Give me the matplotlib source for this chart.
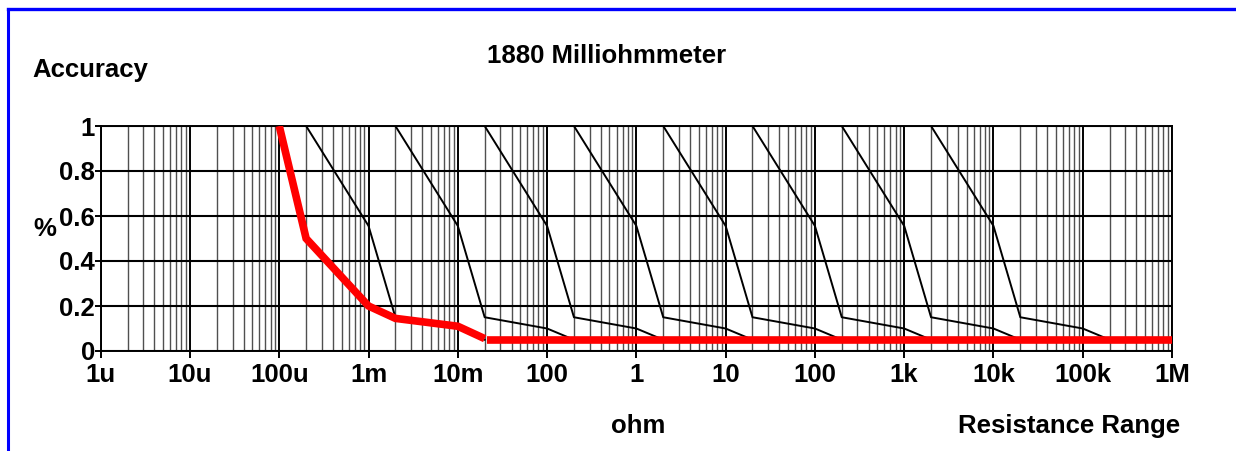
import matplotlib.pyplot as plt
from matplotlib.lines import Line2D
from matplotlib.ticker import FixedLocator, NullFormatter

plt.rcParams['font.family'] = ['Liberation Sans', 'DejaVu Sans']
plt.rcParams['font.weight'] = 'bold'

W, H = 1236, 451

# decade tick labels along the x axis
tick_vals = [1e-6, 1e-5, 1e-4, 1e-3, 1e-2, 1e-1, 1, 10, 100, 1e3, 1e4, 1e5, 1e6]
tick_labels = ['1u', '10u', '100u', '1m', '10m', '100', '1', '10', '100', '1k', '10k', '100k', '1M']
y_ticks = [0, 0.2, 0.4, 0.6, 0.8, 1]
y_labels = ['0', '0.2', '0.4', '0.6', '0.8', '1']

# accuracy curve for each range (start of range = 1 %)
range_starts = [2e-4, 2e-3, 2e-2, 2e-1, 2, 20, 200, 2000]
curve_mult = [1, 5, 10, 50, 100]
curve_acc = [1.0, 0.556, 0.15, 0.10, 0.05]

# best accuracy (red)
best_x = [1e-4, 2e-4, 1e-3, 2e-3, 1e-2, 2e-2]
best_y = [1.0, 0.50, 0.20, 0.145, 0.11, 0.055]
floor_x = [2.1e-2, 1e6]
floor_y = [0.05, 0.05]

fig = plt.figure(figsize=(W / 100, H / 100), dpi=100)
ax = fig.add_axes([100.7 / W, 1 - 351 / H, (1172 - 100.7) / W, 225 / H])
ax.set_xscale('log')
ax.set_xlim(1e-6, 1e6)
ax.set_ylim(0, 1)

# grid
minors = [m * 10.0 ** e for e in range(-6, 6) for m in range(2, 10)]
for v in minors:
    ax.axvline(v, color='#505050', lw=1.0, zorder=1)
for v in tick_vals:
    ax.axvline(v, color='black', lw=1.4, zorder=2)
for v in y_ticks:
    ax.axhline(v, color='black', lw=1.5, zorder=2)

for s in range_starts:
    ax.plot([s * m for m in curve_mult], curve_acc, color='black', lw=1.4, zorder=3)

ax.plot(best_x, best_y, color='#ff0000', lw=5.5, solid_joinstyle='miter',
        solid_capstyle='butt', zorder=4)
ax.plot(floor_x, floor_y, color='#ff0000', lw=5.5, solid_capstyle='butt', zorder=4)

ax.xaxis.set_major_locator(FixedLocator(tick_vals))
ax.xaxis.set_minor_locator(FixedLocator([]))
ax.xaxis.set_minor_formatter(NullFormatter())
ax.set_xticklabels(tick_labels)
ax.set_yticks(y_ticks)
ax.set_yticklabels(y_labels)
ax.tick_params(axis='x', length=5, width=1.4, pad=4, labelsize=18.5, direction='out')
ax.tick_params(axis='y', length=4, width=1.4, pad=0, labelsize=18.5, direction='out')
for sp in ax.spines.values():
    sp.set_linewidth(1.4)

def ftext(x, y, s, ha='left'):
    fig.text(x / W, 1 - y / H, s, ha=ha, va='baseline', fontsize=18.5, fontweight='bold')

ftext(607, 63, '1880 Milliohmmeter', ha='center')
ftext(32, 77, 'Accuracy')
ftext(33, 236, '%')
ftext(638, 433, 'ohm', ha='center')
ftext(1180, 433, 'Resistance Range', ha='right')

# blue frame
fig.add_artist(Line2D([7.5 / W, 7.5 / W], [0, 1 - 9 / H], color='#0000ff', lw=2.2))
fig.add_artist(Line2D([7.5 / W, 1], [1 - 9 / H, 1 - 9 / H], color='#0000ff', lw=2.4))

fig.savefig('out.png', dpi=100)
